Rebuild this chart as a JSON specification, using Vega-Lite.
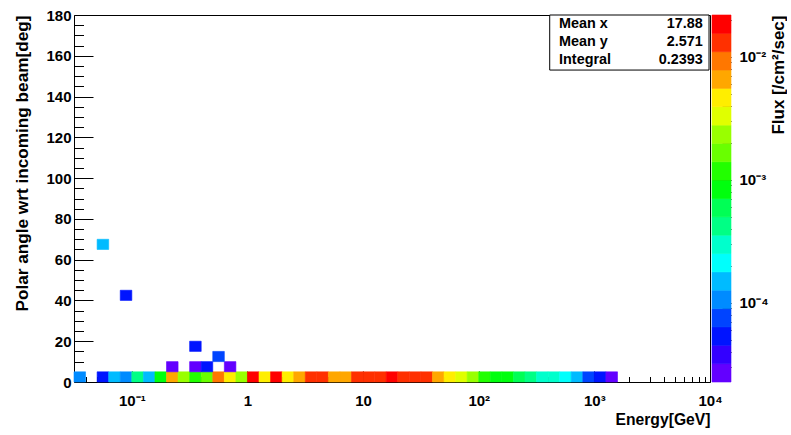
{
  "$schema": "https://vega.github.io/schema/vega-lite/v6.json",
  "background": "white",
  "padding": {"left": 13, "top": 7, "right": 0, "bottom": 0},
  "bounds": "flush",
  "spacing": 2,
  "config": {
    "font": "Liberation Sans",
    "view": {"stroke": "#000", "strokeWidth": 1},
    "axis": {
      "labelFont": "Liberation Sans", "labelFontWeight": "bold", "labelFontSize": 15, "labelColor": "#000",
      "titleFont": "Liberation Sans", "titleFontWeight": "bold", "titleColor": "#000",
      "tickColor": "#000", "tickWidth": 1, "domain": false, "grid": false, "labelFlush": false, "labelOverlap": false
    }
  },
  "resolve": {"scale": {"color": "independent", "stroke": "independent"}},
  "hconcat": [
    {
      "width": 636,
      "height": 367,
      "layer": [
        {
          "data": {"values": [
            {"e0":0.031623,"e1":0.03981,"a0":0,"a1":5,"f":1.06e-4},
            {"e0":0.05012,"e1":0.0631,"a0":0,"a1":5,"f":5.35e-5},
            {"e0":0.0631,"e1":0.07943,"a0":0,"a1":5,"f":1.5e-4},
            {"e0":0.07943,"e1":0.1,"a0":0,"a1":5,"f":1.06e-4},
            {"e0":0.1,"e1":0.1259,"a0":0,"a1":5,"f":4.2e-4},
            {"e0":0.1259,"e1":0.1585,"a0":0,"a1":5,"f":1.5e-4},
            {"e0":0.1585,"e1":0.1995,"a0":0,"a1":5,"f":8.35e-4},
            {"e0":0.1995,"e1":0.2512,"a0":0,"a1":5,"f":6.56e-3},
            {"e0":0.2512,"e1":0.3162,"a0":0,"a1":5,"f":2.34e-3},
            {"e0":0.3162,"e1":0.3981,"a0":0,"a1":5,"f":1.18e-3},
            {"e0":0.3981,"e1":0.5012,"a0":0,"a1":5,"f":1.66e-3},
            {"e0":0.5012,"e1":0.631,"a0":0,"a1":5,"f":9.25e-3},
            {"e0":0.631,"e1":0.7943,"a0":0,"a1":5,"f":4.65e-3},
            {"e0":0.7943,"e1":1,"a0":0,"a1":5,"f":2.34e-3},
            {"e0":1,"e1":1.259,"a0":0,"a1":5,"f":1.84e-2},
            {"e0":1.259,"e1":1.585,"a0":0,"a1":5,"f":4.65e-3},
            {"e0":1.585,"e1":1.995,"a0":0,"a1":5,"f":1.84e-2},
            {"e0":1.995,"e1":2.512,"a0":0,"a1":5,"f":4.65e-3},
            {"e0":2.512,"e1":3.162,"a0":0,"a1":5,"f":6.56e-3},
            {"e0":3.162,"e1":3.981,"a0":0,"a1":5,"f":1.3e-2},
            {"e0":3.981,"e1":5.012,"a0":0,"a1":5,"f":1.3e-2},
            {"e0":5.012,"e1":6.31,"a0":0,"a1":5,"f":6.56e-3},
            {"e0":6.31,"e1":7.943,"a0":0,"a1":5,"f":6.56e-3},
            {"e0":7.943,"e1":10,"a0":0,"a1":5,"f":1.3e-2},
            {"e0":10,"e1":12.59,"a0":0,"a1":5,"f":1.3e-2},
            {"e0":12.59,"e1":15.85,"a0":0,"a1":5,"f":1.3e-2},
            {"e0":15.85,"e1":19.95,"a0":0,"a1":5,"f":1.84e-2},
            {"e0":19.95,"e1":25.12,"a0":0,"a1":5,"f":1.3e-2},
            {"e0":25.12,"e1":31.62,"a0":0,"a1":5,"f":1.3e-2},
            {"e0":31.62,"e1":39.81,"a0":0,"a1":5,"f":1.3e-2},
            {"e0":39.81,"e1":50.12,"a0":0,"a1":5,"f":6.56e-3},
            {"e0":50.12,"e1":63.1,"a0":0,"a1":5,"f":4.65e-3},
            {"e0":63.1,"e1":79.43,"a0":0,"a1":5,"f":3.3e-3},
            {"e0":79.43,"e1":100,"a0":0,"a1":5,"f":2.34e-3},
            {"e0":100,"e1":125.9,"a0":0,"a1":5,"f":1.18e-3},
            {"e0":125.9,"e1":158.5,"a0":0,"a1":5,"f":8.35e-4},
            {"e0":158.5,"e1":199.5,"a0":0,"a1":5,"f":8.35e-4},
            {"e0":199.5,"e1":251.2,"a0":0,"a1":5,"f":5.92e-4},
            {"e0":251.2,"e1":316.2,"a0":0,"a1":5,"f":4.2e-4},
            {"e0":316.2,"e1":398.1,"a0":0,"a1":5,"f":2.98e-4},
            {"e0":398.1,"e1":501.2,"a0":0,"a1":5,"f":2.98e-4},
            {"e0":501.2,"e1":631,"a0":0,"a1":5,"f":2.11e-4},
            {"e0":631,"e1":794.3,"a0":0,"a1":5,"f":1.5e-4},
            {"e0":794.3,"e1":1000,"a0":0,"a1":5,"f":7.54e-5},
            {"e0":1000,"e1":1259,"a0":0,"a1":5,"f":5.35e-5},
            {"e0":1259,"e1":1585,"a0":0,"a1":5,"f":2.69e-5},
            {"e0":0.1995,"e1":0.2512,"a0":5,"a1":10,"f":2.69e-5},
            {"e0":0.3162,"e1":0.3981,"a0":5,"a1":10,"f":2.69e-5},
            {"e0":0.3981,"e1":0.5012,"a0":5,"a1":10,"f":5.35e-5},
            {"e0":0.631,"e1":0.7943,"a0":5,"a1":10,"f":2.69e-5},
            {"e0":0.5012,"e1":0.631,"a0":10,"a1":15,"f":7.54e-5},
            {"e0":0.3162,"e1":0.3981,"a0":15,"a1":20,"f":5.35e-5},
            {"e0":0.07943,"e1":0.1,"a0":40,"a1":45,"f":5.35e-5},
            {"e0":0.05012,"e1":0.0631,"a0":65,"a1":70,"f":1.5e-4}
          ]},
          "mark": {"type": "rect", "strokeWidth": 0.6},
          "encoding": {
            "x": {
              "field": "e0", "type": "quantitative",
              "scale": {"type": "log", "domain": [0.031623, 10000], "nice": false},
              "axis": {
                "orient": "bottom", "values": [0.1, 1, 10, 100, 1000, 10000],
                "labelExpr": "datum.value < 0.5 ? '10⁻¹' : datum.value < 5 ? '1' : datum.value < 50 ? '10' : datum.value < 500 ? '10²' : datum.value < 5000 ? '10³' : '10⁴'",
                "tickSize": -11, "labelPadding": 22,
                "title": "Energy[GeV]", "titleAnchor": "end", "titleFontSize": 15.7, "titlePadding": 4
              }
            },
            "x2": {"field": "e1"},
            "y": {
              "field": "a0", "type": "quantitative",
              "scale": {"domain": [0, 180], "nice": false},
              "axis": {
                "orient": "left", "values": [0, 20, 40, 60, 80, 100, 120, 140, 160, 180],
                "tickSize": -19, "labelPadding": 22,
                "title": "Polar angle wrt incoming beam[deg]", "titleAnchor": "end", "titleFontSize": 17.2, "titlePadding": 14
              }
            },
            "y2": {"field": "a1"},
            "color": {
              "field": "f", "type": "quantitative",
              "scale": {"type": "threshold",
                "domain": [3.193e-5,4.501e-5,6.347e-5,8.951e-5,1.262e-4,1.779e-4,2.508e-4,3.537e-4,4.987e-4,7.031e-4,9.913e-4,1.398e-3,1.971e-3,2.779e-3,3.917e-3,5.524e-3,7.788e-3,1.098e-2,1.548e-2],
                "range": ["#6300ff","#3300ff","#0014ff","#0044ff","#008bff","#00bbff","#00fffc","#00ffcc","#00ff85","#00ff55","#00ff0e","#22ff00","#69ff00","#99ff00","#e0ff00","#ffee00","#ffa700","#ff7700","#ff3000","#ff0000"]},
              "legend": null
            },
            "stroke": {
              "field": "f", "type": "quantitative",
              "scale": {"type": "threshold",
                "domain": [3.193e-5,4.501e-5,6.347e-5,8.951e-5,1.262e-4,1.779e-4,2.508e-4,3.537e-4,4.987e-4,7.031e-4,9.913e-4,1.398e-3,1.971e-3,2.779e-3,3.917e-3,5.524e-3,7.788e-3,1.098e-2,1.548e-2],
                "range": ["#6300ff","#3300ff","#0014ff","#0044ff","#008bff","#00bbff","#00fffc","#00ffcc","#00ff85","#00ff55","#00ff0e","#22ff00","#69ff00","#99ff00","#e0ff00","#ffee00","#ffa700","#ff7700","#ff3000","#ff0000"]},
              "legend": null
            }
          }
        },
        {
          "data": {"values": [{}]},
          "mark": {"type": "rect", "fill": "white", "stroke": "#000", "strokeWidth": 1},
          "encoding": {
            "x": {
              "datum": 411, "type": "quantitative",
              "scale": {"type": "log", "domain": [0.031623, 10000], "nice": false},
              "axis": {
                "orient": "bottom",
                "values": [0.04,0.05,0.06,0.07,0.08,0.09,0.2,0.3,0.4,0.5,0.6,0.7,0.8,0.9,2,3,4,5,6,7,8,9,20,30,40,50,60,70,80,90,200,300,400,500,600,700,800,900,2000,3000,4000,5000,6000,7000,8000,9000],
                "tickSize": -5.5, "labels": false, "title": null
              }
            },
            "x2": {"datum": 9808},
            "y": {
              "datum": 180, "type": "quantitative",
              "scale": {"domain": [0, 180], "nice": false},
              "axis": {
                "orient": "left",
                "values": [5,10,15,25,30,35,45,50,55,65,70,75,85,90,95,105,110,115,125,130,135,145,150,155,165,170,175],
                "tickSize": -9.5, "labels": false, "title": null
              }
            },
            "y2": {"datum": 153}
          }
        },
        {
          "data": {"values": [{"stat": ["Mean x", "Mean y", "Integral"], "val": ["17.88", "2.571", "0.2393"]}]},
          "mark": {"type": "text", "align": "left", "baseline": "middle", "fontSize": 14.4, "fontWeight": "bold", "font": "Liberation Sans", "lineHeight": 17.7, "color": "#000"},
          "encoding": {
            "text": {"field": "stat", "type": "nominal"},
            "x": {"datum": 495, "type": "quantitative", "scale": {"type": "log", "domain": [0.031623, 10000], "nice": false}, "axis": null},
            "y": {"datum": 175.4, "type": "quantitative", "scale": {"domain": [0, 180], "nice": false}, "axis": null}
          }
        },
        {
          "data": {"values": [{"stat": ["Mean x", "Mean y", "Integral"], "val": ["17.88", "2.571", "0.2393"]}]},
          "mark": {"type": "text", "align": "right", "baseline": "middle", "fontSize": 14.4, "fontWeight": "bold", "font": "Liberation Sans", "lineHeight": 17.7, "color": "#000"},
          "encoding": {
            "text": {"field": "val", "type": "nominal"},
            "x": {"datum": 8650, "type": "quantitative", "scale": {"type": "log", "domain": [0.031623, 10000], "nice": false}, "axis": null},
            "y": {"datum": 175.4, "type": "quantitative", "scale": {"domain": [0, 180], "nice": false}, "axis": null}
          }
        }
      ],
      "resolve": {"axis": {"x": "independent", "y": "independent"}}
    },
    {
      "width": 19,
      "height": 367,
      "view": {"stroke": null},
      "data": {"values": [
        {"lo":2.265e-5,"hi":3.193e-5},{"lo":3.193e-5,"hi":4.501e-5},{"lo":4.501e-5,"hi":6.347e-5},{"lo":6.347e-5,"hi":8.951e-5},
        {"lo":8.951e-5,"hi":1.262e-4},{"lo":1.262e-4,"hi":1.779e-4},{"lo":1.779e-4,"hi":2.508e-4},{"lo":2.508e-4,"hi":3.537e-4},
        {"lo":3.537e-4,"hi":4.987e-4},{"lo":4.987e-4,"hi":7.031e-4},{"lo":7.031e-4,"hi":9.913e-4},{"lo":9.913e-4,"hi":1.398e-3},
        {"lo":1.398e-3,"hi":1.971e-3},{"lo":1.971e-3,"hi":2.779e-3},{"lo":2.779e-3,"hi":3.917e-3},{"lo":3.917e-3,"hi":5.524e-3},
        {"lo":5.524e-3,"hi":7.788e-3},{"lo":7.788e-3,"hi":1.098e-2},{"lo":1.098e-2,"hi":1.548e-2},{"lo":1.548e-2,"hi":2.183e-2}
      ]},
      "layer": [
        {
          "mark": {"type": "rect", "strokeWidth": 0.6},
          "encoding": {
            "x": {"datum": 0, "type": "quantitative", "scale": {"domain": [0, 1], "nice": false}, "axis": null},
            "x2": {"datum": 1},
            "y": {
              "field": "lo", "type": "quantitative",
              "scale": {"type": "log", "domain": [2.265e-5, 0.02183], "nice": false},
              "axis": {
                "orient": "right", "values": [0.0001, 0.001, 0.01],
                "labelExpr": "datum.value < 0.0005 ? '10⁻⁴' : datum.value < 0.005 ? '10⁻³' : '10⁻²'",
                "tickSize": -19, "labelPadding": 27,
                "title": "Flux [/cm²/sec]", "titleAngle": 270, "titleAnchor": "end", "titleAlign": "right", "titleBaseline": "top",
                "titlePadding": 2, "titleFontSize": 17
              }
            },
            "y2": {"field": "hi"},
            "color": {
              "field": "lo", "type": "quantitative",
              "scale": {"type": "threshold",
                "domain": [3.193e-5,4.501e-5,6.347e-5,8.951e-5,1.262e-4,1.779e-4,2.508e-4,3.537e-4,4.987e-4,7.031e-4,9.913e-4,1.398e-3,1.971e-3,2.779e-3,3.917e-3,5.524e-3,7.788e-3,1.098e-2,1.548e-2],
                "range": ["#6300ff","#3300ff","#0014ff","#0044ff","#008bff","#00bbff","#00fffc","#00ffcc","#00ff85","#00ff55","#00ff0e","#22ff00","#69ff00","#99ff00","#e0ff00","#ffee00","#ffa700","#ff7700","#ff3000","#ff0000"]},
              "legend": null
            },
            "stroke": {
              "field": "lo", "type": "quantitative",
              "scale": {"type": "threshold",
                "domain": [3.193e-5,4.501e-5,6.347e-5,8.951e-5,1.262e-4,1.779e-4,2.508e-4,3.537e-4,4.987e-4,7.031e-4,9.913e-4,1.398e-3,1.971e-3,2.779e-3,3.917e-3,5.524e-3,7.788e-3,1.098e-2,1.548e-2],
                "range": ["#6300ff","#3300ff","#0014ff","#0044ff","#008bff","#00bbff","#00fffc","#00ffcc","#00ff85","#00ff55","#00ff0e","#22ff00","#69ff00","#99ff00","#e0ff00","#ffee00","#ffa700","#ff7700","#ff3000","#ff0000"]},
              "legend": null
            }
          }
        },
        {
          "mark": {"type": "rect", "opacity": 0},
          "encoding": {
            "x": {"datum": 0, "type": "quantitative", "scale": {"domain": [0, 1], "nice": false}, "axis": null},
            "x2": {"datum": 1},
            "y": {
              "field": "lo", "type": "quantitative",
              "scale": {"type": "log", "domain": [2.265e-5, 0.02183], "nice": false},
              "axis": {
                "orient": "right",
                "values": [3e-5,4e-5,5e-5,6e-5,7e-5,8e-5,9e-5,2e-4,3e-4,4e-4,5e-4,6e-4,7e-4,8e-4,9e-4,2e-3,3e-3,4e-3,5e-3,6e-3,7e-3,8e-3,9e-3,2e-2],
                "tickSize": -9, "labels": false, "title": null
              }
            },
            "y2": {"field": "hi"}
          }
        }
      ],
      "resolve": {"axis": {"y": "independent"}}
    }
  ]
}
